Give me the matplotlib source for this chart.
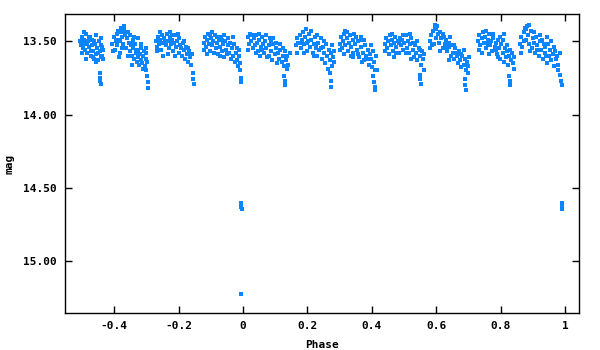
import matplotlib
matplotlib.use('Agg')
from matplotlib import pyplot as plt
import numpy as np

# phase-folded light curve, one block of points per night
a_phase = [-0.505, -0.503, -0.50, -0.498, -0.495, -0.493, -0.49, -0.488, -0.485, -0.483, -0.48, -0.478,
           -0.475, -0.472, -0.47, -0.468, -0.465, -0.462, -0.46, -0.457, -0.455, -0.452, -0.45, -0.448,
           -0.445, -0.442, -0.44, -0.437, -0.435, -0.433, -0.445, -0.444, -0.443, -0.442,
           -0.501, -0.494, -0.486, -0.479, -0.471, -0.463, -0.456, -0.449, -0.441, -0.436, -0.497, -0.466]
a_mag = [13.50, 13.53, 13.47, 13.55, 13.51, 13.49, 13.56, 13.45, 13.52, 13.58, 13.50, 13.54,
         13.47, 13.60, 13.53, 13.49, 13.57, 13.62, 13.52, 13.46, 13.59, 13.55, 13.63, 13.50,
         13.57, 13.61, 13.53, 13.60, 13.56, 13.62, 13.72, 13.75, 13.77, 13.79,
         13.58, 13.44, 13.62, 13.48, 13.57, 13.50, 13.64, 13.58, 13.48, 13.54, 13.52, 13.61]

b_phase = [-0.405, -0.40, -0.398, -0.395, -0.392, -0.39, -0.388, -0.385, -0.383, -0.38, -0.378, -0.375,
           -0.372, -0.37, -0.368, -0.365, -0.362, -0.36, -0.357, -0.355, -0.352, -0.35, -0.347, -0.345,
           -0.342, -0.34, -0.337, -0.335, -0.332, -0.33, -0.327, -0.325, -0.322, -0.32, -0.317, -0.315,
           -0.312, -0.31, -0.307, -0.305, -0.302, -0.30, -0.298, -0.30, -0.298, -0.296, -0.294,
           -0.403, -0.393, -0.386, -0.376, -0.366, -0.358, -0.349, -0.339, -0.331, -0.318, -0.309, -0.301,
           -0.381, -0.344, -0.326]
b_mag = [13.52, 13.47, 13.56, 13.50, 13.45, 13.53, 13.43, 13.49, 13.58, 13.44, 13.41, 13.47,
         13.52, 13.42, 13.40, 13.46, 13.55, 13.48, 13.44, 13.51, 13.57, 13.46, 13.53, 13.60,
         13.49, 13.55, 13.62, 13.52, 13.58, 13.64, 13.56, 13.61, 13.66, 13.59, 13.63, 13.55,
         13.65, 13.60, 13.57, 13.67, 13.62, 13.58, 13.64, 13.70, 13.74, 13.78, 13.82,
         13.57, 13.49, 13.61, 13.55, 13.44, 13.60, 13.52, 13.47, 13.56, 13.52, 13.69, 13.55,
         13.50, 13.66, 13.48]

c_phase = [-0.27, -0.267, -0.264, -0.26, -0.257, -0.254, -0.25, -0.247, -0.244, -0.24, -0.237, -0.234,
           -0.23, -0.227, -0.224, -0.22, -0.217, -0.214, -0.21, -0.207, -0.204, -0.20, -0.197, -0.194,
           -0.19, -0.187, -0.184, -0.18, -0.177, -0.174, -0.17, -0.167, -0.164, -0.16, -0.157,
           -0.156, -0.154, -0.152,
           -0.266, -0.259, -0.249, -0.241, -0.232, -0.221, -0.212, -0.203, -0.192, -0.182, -0.172, -0.162,
           -0.255, -0.226]
c_mag = [13.50, 13.54, 13.47, 13.52, 13.49, 13.56, 13.46, 13.51, 13.48, 13.53, 13.45, 13.50,
         13.55, 13.47, 13.52, 13.49, 13.57, 13.51, 13.46, 13.54, 13.50, 13.58, 13.48, 13.53,
         13.60, 13.51, 13.56, 13.62, 13.54, 13.59, 13.64, 13.57, 13.61, 13.66, 13.59,
         13.72, 13.76, 13.79,
         13.57, 13.44, 13.60, 13.50, 13.59, 13.46, 13.60, 13.45, 13.55, 13.50, 13.55, 13.59,
         13.51, 13.44]

d_phase = [-0.122, -0.118, -0.115, -0.112, -0.108, -0.105, -0.102, -0.098, -0.095, -0.092, -0.088, -0.085,
           -0.082, -0.078, -0.075, -0.072, -0.068, -0.065, -0.062, -0.058, -0.055, -0.052, -0.048, -0.045,
           -0.042, -0.038, -0.035, -0.032, -0.028, -0.025, -0.022, -0.018, -0.015, -0.012, -0.01, -0.008,
           -0.006, -0.005,
           -0.120, -0.111, -0.101, -0.090, -0.080, -0.070, -0.060, -0.050, -0.040, -0.030, -0.020, -0.013,
           -0.096, -0.064]
d_mag = [13.51, 13.47, 13.54, 13.49, 13.45, 13.52, 13.57, 13.48, 13.53, 13.50, 13.46, 13.55,
         13.51, 13.59, 13.49, 13.54, 13.47, 13.57, 13.52, 13.61, 13.50, 13.56, 13.53, 13.48,
         13.58, 13.62, 13.55, 13.60, 13.52, 13.64, 13.58, 13.63, 13.67, 13.60, 13.70, 13.65,
         13.75, 13.78,
         13.56, 13.59, 13.46, 13.58, 13.47, 13.60, 13.46, 13.59, 13.51, 13.47, 13.55, 13.56,
         13.44, 13.49]

e_phase = [0.015, 0.019, 0.022, 0.026, 0.03, 0.033, 0.037, 0.04, 0.044, 0.048, 0.051, 0.055,
           0.058, 0.062, 0.066, 0.069, 0.073, 0.076, 0.08, 0.084, 0.087, 0.091, 0.094, 0.098,
           0.102, 0.105, 0.109, 0.112, 0.116, 0.12, 0.123, 0.127, 0.13, 0.134, 0.138, 0.141, 0.145,
           0.128, 0.13, 0.132,
           0.017, 0.028, 0.039, 0.049, 0.060, 0.071, 0.082, 0.093, 0.104, 0.114, 0.125, 0.136,
           0.054, 0.087]
e_mag = [13.47, 13.52, 13.45, 13.50, 13.55, 13.48, 13.53, 13.46, 13.51, 13.57, 13.49, 13.54,
         13.47, 13.52, 13.58, 13.50, 13.55, 13.61, 13.53, 13.48, 13.57, 13.63, 13.52, 13.59,
         13.55, 13.65, 13.58, 13.62, 13.56, 13.64, 13.60, 13.67, 13.57, 13.63, 13.60, 13.66, 13.58,
         13.74, 13.77, 13.80,
         13.56, 13.46, 13.58, 13.45, 13.56, 13.46, 13.60, 13.48, 13.51, 13.52, 13.55, 13.69,
         13.60, 13.50]

f_phase = [0.165, 0.169, 0.172, 0.176, 0.18, 0.183, 0.187, 0.19, 0.194, 0.198, 0.201, 0.205,
           0.208, 0.212, 0.216, 0.219, 0.223, 0.226, 0.23, 0.234, 0.237, 0.241, 0.244, 0.248,
           0.252, 0.255, 0.259, 0.262, 0.266, 0.27, 0.273, 0.277, 0.28, 0.284, 0.27, 0.272, 0.274,
           0.167, 0.178, 0.189, 0.199, 0.210, 0.221, 0.231, 0.242, 0.253, 0.264, 0.275, 0.282,
           0.195, 0.228]
f_mag = [13.53, 13.48, 13.51, 13.46, 13.55, 13.49, 13.44, 13.52, 13.47, 13.57, 13.50, 13.45,
         13.54, 13.49, 13.58, 13.52, 13.47, 13.55, 13.60, 13.51, 13.56, 13.48, 13.62, 13.54,
         13.58, 13.65, 13.52, 13.60, 13.56, 13.63, 13.58, 13.67, 13.61, 13.57, 13.72, 13.77, 13.81,
         13.58, 13.51, 13.58, 13.51, 13.43, 13.60, 13.46, 13.55, 13.50, 13.69, 13.53, 13.64,
         13.42, 13.53]

g_phase = [0.30, 0.304, 0.307, 0.311, 0.315, 0.318, 0.322, 0.325, 0.329, 0.333, 0.336, 0.34,
           0.343, 0.347, 0.351, 0.354, 0.358, 0.361, 0.365, 0.369, 0.372, 0.376, 0.379, 0.383,
           0.387, 0.39, 0.394, 0.397, 0.401, 0.405, 0.408, 0.412, 0.415, 0.405, 0.407, 0.409, 0.41,
           0.302, 0.313, 0.323, 0.334, 0.345, 0.356, 0.366, 0.377, 0.388, 0.398, 0.409, 0.340,
           0.371, 0.316]
g_mag = [13.52, 13.47, 13.55, 13.50, 13.45, 13.53, 13.48, 13.57, 13.51, 13.46, 13.54, 13.49,
         13.58, 13.52, 13.47, 13.56, 13.50, 13.61, 13.54, 13.49, 13.58, 13.63, 13.53, 13.60,
         13.56, 13.66, 13.59, 13.62, 13.68, 13.57, 13.64, 13.60, 13.70, 13.74, 13.78, 13.81, 13.83,
         13.56, 13.59, 13.44, 13.60, 13.45, 13.59, 13.47, 13.49, 13.62, 13.53, 13.70, 13.61,
         13.64, 13.43]

h_phase = [0.44, 0.444, 0.447, 0.451, 0.455, 0.458, 0.462, 0.465, 0.469, 0.473, 0.476, 0.48,
           0.483, 0.487, 0.491, 0.494, 0.498, 0.501, 0.505, 0.509, 0.512, 0.516, 0.519, 0.523,
           0.527, 0.53, 0.534, 0.537, 0.541, 0.545, 0.548, 0.552, 0.555, 0.559, 0.563,
           0.548, 0.55, 0.552,
           0.442, 0.453, 0.464, 0.474, 0.485, 0.496, 0.507, 0.517, 0.528, 0.539, 0.550, 0.561,
           0.470, 0.521]
h_mag = [13.52, 13.48, 13.55, 13.50, 13.46, 13.53, 13.49, 13.57, 13.51, 13.47, 13.54, 13.50,
         13.58, 13.48, 13.53, 13.49, 13.56, 13.51, 13.46, 13.55, 13.50, 13.58, 13.52, 13.48,
         13.56, 13.61, 13.53, 13.58, 13.63, 13.55, 13.60, 13.66, 13.57, 13.62, 13.59,
         13.73, 13.76, 13.79,
         13.57, 13.59, 13.45, 13.58, 13.51, 13.46, 13.58, 13.45, 13.51, 13.50, 13.56, 13.70,
         13.61, 13.62]

i_phase = [0.58, 0.584, 0.587, 0.591, 0.595, 0.598, 0.602, 0.605, 0.609, 0.613, 0.616, 0.62,
           0.623, 0.627, 0.631, 0.634, 0.638, 0.641, 0.645, 0.649, 0.652, 0.656, 0.659, 0.663,
           0.667, 0.67, 0.674, 0.677, 0.681, 0.685, 0.688, 0.692, 0.695, 0.699, 0.703,
           0.688, 0.69, 0.692,
           0.582, 0.593, 0.600, 0.611, 0.622, 0.633, 0.643, 0.654, 0.665, 0.676, 0.686, 0.697,
           0.596, 0.640]
i_mag = [13.50, 13.46, 13.53, 13.43, 13.41, 13.48, 13.40, 13.45, 13.51, 13.44, 13.48, 13.55,
         13.47, 13.52, 13.49, 13.57, 13.51, 13.54, 13.60, 13.53, 13.58, 13.62, 13.55, 13.60,
         13.65, 13.57, 13.63, 13.68, 13.60, 13.66, 13.62, 13.70, 13.64, 13.67, 13.61,
         13.76, 13.80, 13.83,
         13.55, 13.52, 13.42, 13.57, 13.45, 13.55, 13.47, 13.53, 13.58, 13.59, 13.56, 13.72,
         13.39, 13.63]

j_phase = [0.73, 0.734, 0.737, 0.741, 0.745, 0.748, 0.752, 0.755, 0.759, 0.763, 0.766, 0.77,
           0.773, 0.777, 0.781, 0.784, 0.788, 0.791, 0.795, 0.799, 0.802, 0.806, 0.809, 0.813,
           0.817, 0.82, 0.824, 0.827, 0.831, 0.835, 0.838, 0.842, 0.826, 0.828, 0.83,
           0.732, 0.743, 0.753, 0.764, 0.775, 0.786, 0.797, 0.807, 0.818, 0.829, 0.840, 0.760,
           0.793, 0.811]
j_mag = [13.50, 13.46, 13.53, 13.48, 13.44, 13.51, 13.47, 13.55, 13.49, 13.45, 13.53, 13.50,
         13.57, 13.48, 13.54, 13.51, 13.59, 13.49, 13.55, 13.62, 13.52, 13.58, 13.64, 13.55,
         13.61, 13.57, 13.66, 13.60, 13.63, 13.58, 13.65, 13.61, 13.74, 13.77, 13.80,
         13.56, 13.58, 13.43, 13.59, 13.45, 13.56, 13.47, 13.49, 13.53, 13.56, 13.69, 13.52,
         13.61, 13.45]

k_phase = [0.86, 0.864, 0.867, 0.871, 0.875, 0.878, 0.882, 0.885, 0.889, 0.893, 0.896, 0.90,
           0.903, 0.907, 0.911, 0.914, 0.918, 0.921, 0.925, 0.929, 0.932, 0.936, 0.939, 0.943,
           0.947, 0.95, 0.954, 0.957, 0.961, 0.965, 0.968, 0.972, 0.975, 0.979, 0.983,
           0.985, 0.987, 0.989,
           0.862, 0.873, 0.880, 0.891, 0.902, 0.913, 0.923, 0.934, 0.945, 0.956, 0.966, 0.977,
           0.887, 0.941]
k_mag = [13.52, 13.47, 13.54, 13.44, 13.41, 13.49, 13.40, 13.46, 13.52, 13.43, 13.55, 13.48,
         13.51, 13.58, 13.47, 13.53, 13.60, 13.50, 13.56, 13.49, 13.62, 13.54, 13.58, 13.65,
         13.52, 13.60, 13.56, 13.63, 13.59, 13.67, 13.57, 13.62, 13.60, 13.66, 13.58,
         13.73, 13.77, 13.80,
         13.58, 13.50, 13.42, 13.57, 13.44, 13.56, 13.46, 13.52, 13.47, 13.50, 13.54, 13.70,
         13.39, 13.60]

# eclipse points
ecl_phase = [-0.005, -0.005, -0.004, -0.005, 0.991, 0.990, 0.991]
ecl_mag = [14.60, 14.63, 14.643, 15.22, 14.60, 14.63, 14.643]

phase = np.concatenate([a_phase, b_phase, c_phase, d_phase, e_phase, f_phase,
                        g_phase, h_phase, i_phase, j_phase, k_phase, ecl_phase])
mag = np.concatenate([a_mag, b_mag, c_mag, d_mag, e_mag, f_mag,
                      g_mag, h_mag, i_mag, j_mag, k_mag, ecl_mag])

xticks = [-0.4, -0.2, 0, 0.2, 0.4, 0.6, 0.8, 1]
xtick_labels = ['-0.4', '-0.2', '0', '0.2', '0.4', '0.6', '0.8', '1']
yticks = [13.5, 14.0, 14.5, 15.0]
ytick_labels = ['13.50', '14.00', '14.50', '15.00']

plt.rcParams['font.family'] = ['DejaVu Sans Mono']
plt.rcParams['font.weight'] = 'bold'

fig = plt.figure(figsize=(6, 3.5), dpi=100)
ax = fig.add_axes([0.108, 0.106, 0.857, 0.854])

ax.plot(phase, mag, 's', color='#0a84ff', markersize=2.4, markeredgewidth=0)

ax.set_xlim(-0.553, 1.043)
ax.set_ylim(15.35, 13.316)
ax.set_xticks(xticks)
ax.set_xticklabels(xtick_labels)
ax.set_yticks(yticks)
ax.set_yticklabels(ytick_labels)
ax.tick_params(direction='in', top=True, right=True, length=5, width=1,
               labelsize=8, pad=6)
for s in ax.spines.values():
    s.set_linewidth(1)

ax.set_xlabel('Phase', fontsize=8, fontweight='bold', labelpad=6)
ax.set_ylabel('mag', fontsize=8, fontweight='bold', labelpad=6)

fig.savefig('out.png', dpi=100)
